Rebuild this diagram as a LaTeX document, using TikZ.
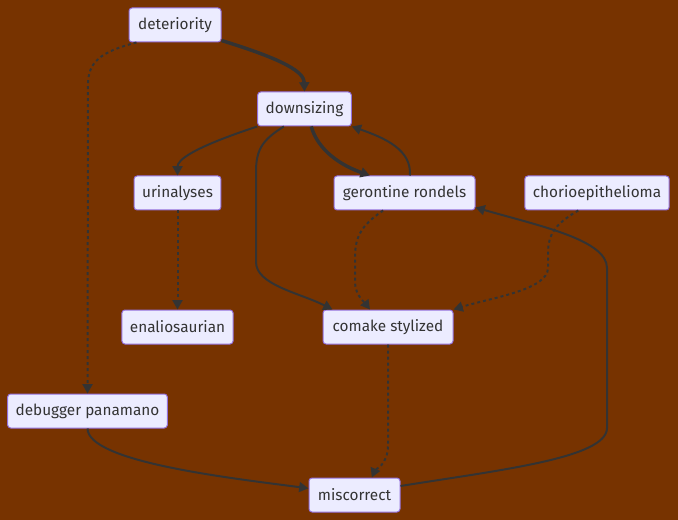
\documentclass[tikz,border=0pt]{standalone}
\usepackage{fontspec}
\setmainfont{Fira Sans}
\usetikzlibrary{arrows.meta}
\definecolor{bgbrown}{HTML}{773300}
\definecolor{boxfill}{HTML}{ECECFF}
\definecolor{boxline}{HTML}{9370DB}
\definecolor{edgegray}{HTML}{333333}
\tikzset{
  box/.style={draw=boxline, fill=boxfill, line width=.75pt, rounded corners=2.25pt,
    minimum height=25.5pt, inner xsep=6pt, text=edgegray, font=\fontsize{11.5}{13}\selectfont},
  link/.style={->, draw=edgegray, line width=1.5pt},
  thicklink/.style={->, draw=edgegray, line width=2.6pt},
  dotlink/.style={->, draw=edgegray, line width=1.5pt, dash pattern=on 2.25pt off 2.25pt}
}
\begin{document}
\begin{tikzpicture}[x=.75pt, y=-.75pt, line join=round, >={Triangle[length=7pt,width=7.5pt]}]
\fill[bgbrown] (0,0) rectangle (678,520);
\useasboundingbox (0,0) rectangle (678,520);
\node[box, minimum width=69pt] (deteriority) at (175,25) {deteriority};
\node[box, minimum width=69.75pt] (downsizing) at (304.5,109) {downsizing};
\node[box, minimum width=63.75pt] (urinalyses) at (177.5,193) {urinalyses};
\node[box, minimum width=105.75pt] (gerontine) at (404.5,193) {gerontine rondels};
\node[box, minimum width=108pt] (chorio) at (597,193) {chorioepithelioma};
\node[box, minimum width=81.75pt] (enalio) at (177.5,327) {enaliosaurian};
\node[box, minimum width=97.5pt] (comake) at (388,327) {comake stylized};
\node[box, minimum width=119.25pt] (debugger) at (87.5,411) {debugger panamano};
\node[box, minimum width=68.25pt] (miscorrect) at (354.5,495) {miscorrect};
% edges
\draw[thicklink] ([yshift=1.5pt]deteriority.south east) .. controls (285,60) and (304,72) .. (downsizing.north);
\draw[dotlink] ([xshift=6pt]deteriority.south west) .. controls (100,52) and (88,62) .. (88,85) -- (debugger.north);
\draw[link] (downsizing.south west) .. controls (192,148) and (177.5,160) .. (urinalyses.north);
\draw[link] ([xshift=20pt]downsizing.south west) .. controls (262,140) and (256,150) .. (256,172) -- (256,262) .. controls (256,285) and (300,293) .. ([xshift=7.5pt]comake.north west);
\draw[thicklink] ([xshift=5pt]downsizing.south) .. controls (318,150) and (340,165) .. ([xshift=-26pt]gerontine.north);
\draw[link] ([xshift=4pt]gerontine.north) .. controls (412,150) and (385,138) .. (downsizing.south east);
\draw[dotlink] (urinalyses.south) -- (enalio.north);
\draw[dotlink] ([xshift=-16pt]gerontine.south) .. controls (360,226) and (355,238) .. (355,258) -- (355,282) .. controls (355,295) and (365,303) .. ([xshift=-13.5pt]comake.north);
\draw[dotlink] ([xshift=-14pt]chorio.south) .. controls (555,224) and (548,234) .. (548,254) -- (548,268) .. controls (548,290) and (490,298) .. (comake.north east);
\draw[dotlink] (comake.south) -- (388,445) .. controls (388,465) and (375,470) .. ([xshift=13pt]miscorrect.north);
\draw[link] (debugger.south) .. controls (88,462) and (230,478) .. ([yshift=5pt]miscorrect.west);
\draw[link] ([yshift=6.75pt]miscorrect.east) .. controls (500,470) and (607,458) .. (607,428) -- (607,268) .. controls (607,240) and (540,226) .. ([yshift=2.25pt]gerontine.south east);
\end{tikzpicture}
\end{document}
